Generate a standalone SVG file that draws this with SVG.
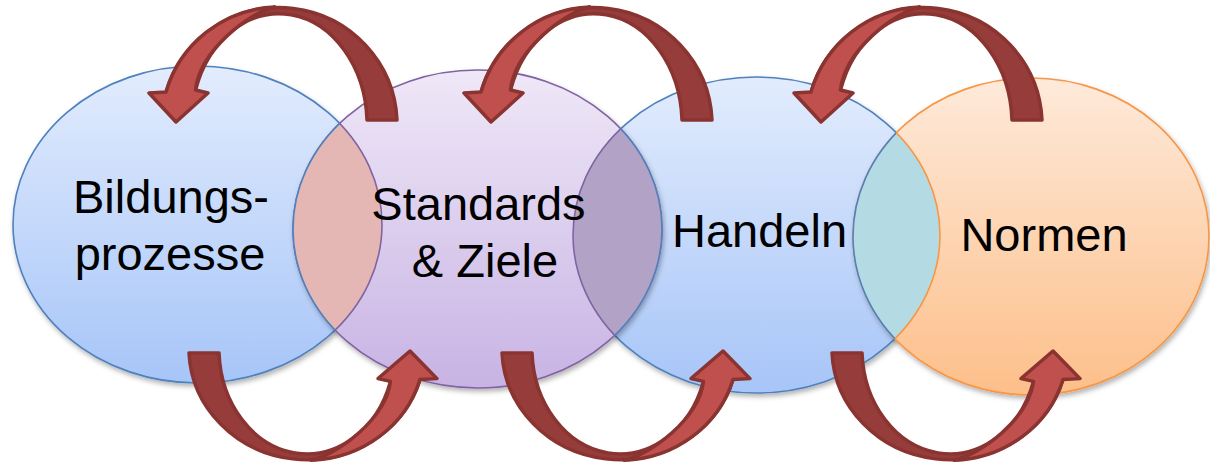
<svg xmlns="http://www.w3.org/2000/svg" xmlns:xlink="http://www.w3.org/1999/xlink" width="1210" height="464" viewBox="0 0 1210 464">
<style>
  .lbl { font-family: "Liberation Sans", Arial, sans-serif; font-size: 47px; fill: #000; text-anchor: middle; }
  .c-blue { fill: url(#gBlue); stroke: #4F81BD; stroke-width: 1.6; }
  .c-purple { fill: url(#gPurple); stroke: #8064A2; stroke-width: 1.6; }
  .c-orange { fill: url(#gOrange); stroke: #F79646; stroke-width: 1.6; }
  .edge { fill: none; stroke-width: 1.6; }
  .arrow-back { fill: #963C3A; stroke: #8A3432; stroke-width: 3.5; stroke-linejoin: round; }
  .arrow-front { fill: #C0504D; stroke: #8A3432; stroke-width: 3.5; stroke-linejoin: round; }
</style>
<defs>
  <linearGradient id="gBlue" x1="0" y1="0" x2="0" y2="1">
    <stop offset="0" stop-color="#E2ECFD"/>
    <stop offset="1" stop-color="#A7C5F8"/>
  </linearGradient>
  <linearGradient id="gPurple" x1="0" y1="0" x2="0" y2="1">
    <stop offset="0" stop-color="#EFE8F7"/>
    <stop offset="1" stop-color="#C8B3E4"/>
  </linearGradient>
  <linearGradient id="gOrange" x1="0" y1="0" x2="0" y2="1">
    <stop offset="0" stop-color="#FEEADA"/>
    <stop offset="1" stop-color="#FDBF8A"/>
  </linearGradient>
  <filter id="sh" x="-10%" y="-10%" width="125%" height="130%">
    <feDropShadow dx="1.5" dy="3" stdDeviation="2.5" flood-color="#000" flood-opacity="0.3"/>
  </filter>
  <clipPath id="cp1"><ellipse cx="197.5" cy="224.5" rx="184.5" ry="158.5"/></clipPath>
  <clipPath id="cp2"><ellipse cx="477.5" cy="229" rx="184.5" ry="159"/></clipPath>
  <clipPath id="cp3"><ellipse cx="756.5" cy="235" rx="183.5" ry="158"/></clipPath>
  <clipPath id="cp4"><ellipse cx="1031" cy="236.5" rx="178" ry="158.5"/></clipPath>
  <g id="curvedArrow">
    <path class="arrow-back" d="M481,92 A118,118 0 0 1 712,120 L682,120 A88,111 0 0 0 510.5,90 Z"/>
    <path class="arrow-front" d="M464,93 L481,92 A118,118 0 0 1 590,7 C565,12 515,50 510.5,90 L523,93 L491,122 Z"/>
  </g>
</defs>

<g id="node-bildungsprozesse">
  <ellipse class="c-blue" filter="url(#sh)" cx="197.5" cy="224.5" rx="184.5" ry="158.5"/>
  <text class="lbl" x="171" y="213">Bildungs-</text>
  <text class="lbl" x="170" y="270">prozesse</text>
</g>

<g id="node-handeln">
  <ellipse class="c-blue" filter="url(#sh)" cx="756.5" cy="235" rx="183.5" ry="158"/>
  <text class="lbl" x="759.5" y="247">Handeln</text>
</g>

<g id="node-standards">
  <ellipse class="c-purple" filter="url(#sh)" cx="477.5" cy="229" rx="184.5" ry="159"/>
  <g id="overlap-1-2">
    <ellipse fill="#E4B7B5" clip-path="url(#cp1)" cx="477.5" cy="229" rx="184.5" ry="159"/>
    <ellipse class="edge" stroke="#4F81BD" clip-path="url(#cp1)" cx="477.5" cy="229" rx="184.5" ry="159"/>
    <ellipse class="edge" stroke="#8064A2" clip-path="url(#cp2)" cx="197.5" cy="224.5" rx="184.5" ry="158.5"/>
  </g>
  <g id="overlap-2-3">
    <ellipse fill="#B1A2C6" clip-path="url(#cp2)" cx="756.5" cy="235" rx="183.5" ry="158"/>
    <ellipse class="edge" stroke="#8064A2" clip-path="url(#cp2)" cx="756.5" cy="235" rx="183.5" ry="158"/>
    <ellipse class="edge" stroke="#4F81BD" clip-path="url(#cp3)" cx="477.5" cy="229" rx="184.5" ry="159"/>
  </g>
  <text class="lbl" x="478.5" y="220">Standards</text>
  <text class="lbl" x="485" y="277">&amp; Ziele</text>
</g>

<g id="node-normen">
  <ellipse class="c-orange" filter="url(#sh)" cx="1031" cy="236.5" rx="178" ry="158.5"/>
  <g id="overlap-3-4">
    <ellipse fill="#B4DBE4" clip-path="url(#cp3)" cx="1031" cy="236.5" rx="178" ry="158.5"/>
    <ellipse class="edge" stroke="#4F81BD" clip-path="url(#cp3)" cx="1031" cy="236.5" rx="178" ry="158.5"/>
    <ellipse class="edge" stroke="#F79646" clip-path="url(#cp4)" cx="756.5" cy="235" rx="183.5" ry="158"/>
  </g>
  <text class="lbl" x="1044" y="251">Normen</text>
</g>

<g id="connectors">
  <use xlink:href="#curvedArrow" href="#curvedArrow" transform="translate(-315 0)"/>
  <use xlink:href="#curvedArrow" href="#curvedArrow"/>
  <use xlink:href="#curvedArrow" href="#curvedArrow" transform="translate(330 0)"/>
  <use xlink:href="#curvedArrow" href="#curvedArrow" transform="translate(901 466.9) scale(-1 -0.95)"/>
  <use xlink:href="#curvedArrow" href="#curvedArrow" transform="translate(1214 466.9) scale(-1 -0.95)"/>
  <use xlink:href="#curvedArrow" href="#curvedArrow" transform="translate(1544 466.9) scale(-1 -0.95)"/>
</g>
</svg>
